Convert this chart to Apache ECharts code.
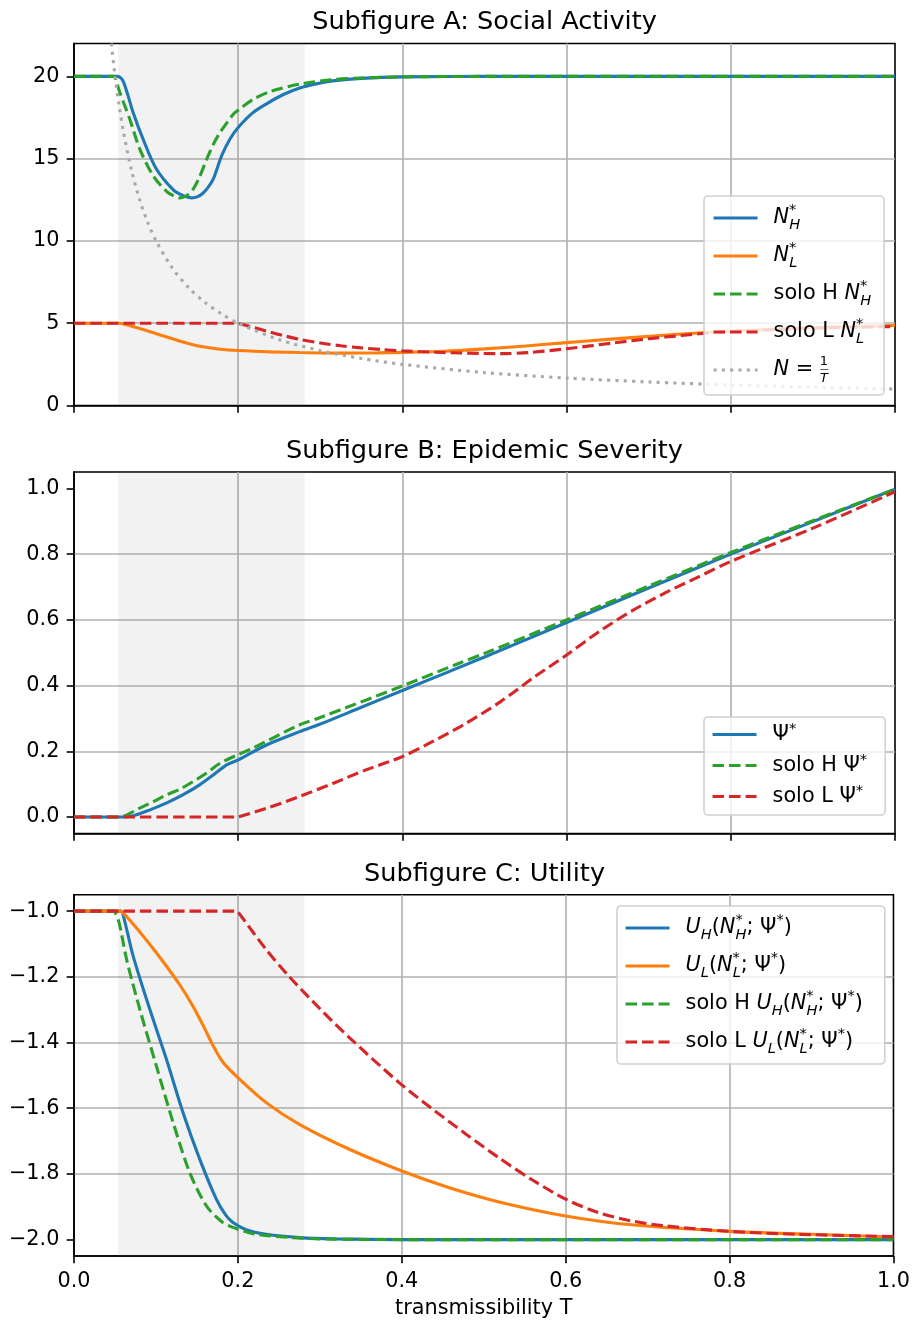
<!DOCTYPE html>
<html><head><meta charset="utf-8">
<script src="https://cdn.jsdelivr.net/npm/echarts@6/dist/echarts.min.js"></script>
<style>html,body{margin:0;padding:0;background:#fff;} #chart{width:913px;height:1320px;}</style>
</head><body><div id="chart"></div>
<script>
// ---------- text ----------
const titles = ['Subfigure A: Social Activity', 'Subfigure B: Epidemic Severity', 'Subfigure C: Utility'];
const xLabel = 'transmissibility T';

// ---------- ticks ----------
const xTicks = [0, 0.2, 0.4, 0.6, 0.8, 1.0];
const yTicksA = [0, 5, 10, 15, 20];
const yTicksB = [0, 0.2, 0.4, 0.6, 0.8, 1.0];
const yTicksC = [-2, -1.8, -1.6, -1.4, -1.2, -1];
const yRangeA = [0, 22];
const yRangeB = [-0.05, 1.05];
const yRangeC = [-2.05, -0.95];
const shadedT = [0.054, 0.281];

// ---------- Subfigure A : social activity ----------
const nH = [[0,20],[0.052,20],[0.056,19.95],[0.06,19.7],[0.066,18.8],[0.072,17.8],[0.084,16.2],[0.1,14.4],[0.121,13.1],[0.133,12.75],[0.143,12.62],[0.15,12.68],[0.157,12.9],[0.164,13.3],[0.17,13.8],[0.18,15.2],[0.19,16.2],[0.2,16.9],[0.218,17.8],[0.235,18.35],[0.255,18.9],[0.275,19.3],[0.3,19.6],[0.315,19.73],[0.35,19.88],[0.4,19.97],[0.5,20],[1,20]];
const nL = [[0,5],[0.0555,5],[0.056,5],[0.08,4.68],[0.105,4.29],[0.137,3.8],[0.153,3.6],[0.178,3.42],[0.2,3.34],[0.24,3.26],[0.275,3.22],[0.33,3.18],[0.37,3.2],[0.4,3.23],[0.45,3.3],[0.5,3.44],[0.55,3.62],[0.6,3.82],[0.65,4.02],[0.7,4.2],[0.74,4.35],[0.8,4.52],[0.87,4.68],[0.93,4.78],[1,4.86]];
const soloHnH = [[0,20],[0.0495,20],[0.05,20],[0.056,19.0],[0.062,18.2],[0.068,17.4],[0.08,15.6],[0.0966,13.95],[0.113,13.0],[0.121,12.75],[0.129,12.62],[0.137,12.75],[0.145,13.13],[0.153,13.9],[0.1614,14.95],[0.17,15.9],[0.178,16.6],[0.194,17.7],[0.2,17.95],[0.218,18.6],[0.24,19.1],[0.275,19.53],[0.315,19.8],[0.35,19.9],[0.4,19.97],[0.5,20],[1,20]];
const soloLnL = [[0,5],[0.1995,5],[0.2,5],[0.21,4.86],[0.235,4.52],[0.255,4.25],[0.275,4.02],[0.3,3.8],[0.325,3.63],[0.35,3.5],[0.375,3.4],[0.4,3.32],[0.45,3.22],[0.5,3.16],[0.52,3.15],[0.555,3.22],[0.6,3.45],[0.657,3.8],[0.7,4.06],[0.74,4.25],[0.77,4.39],[0.85,4.6],[0.93,4.73],[1,4.8]];
const nInvT = [[0.0455,22],[0.05,20],[0.055,18.2],[0.06,16.7],[0.07,14.3],[0.08,12.5],[0.09,11.1],[0.1,10],[0.12,8.33],[0.14,7.14],[0.16,6.25],[0.18,5.56],[0.2,5],[0.25,4],[0.3,3.33],[0.35,2.86],[0.4,2.5],[0.5,2],[0.6,1.67],[0.7,1.43],[0.8,1.25],[0.9,1.11],[1,1]];

// ---------- Subfigure B : epidemic severity ----------
const psi = [[0,0],[0.058,0],[0.072,0.004],[0.0925,0.022],[0.113,0.043],[0.133,0.068],[0.153,0.098],[0.17,0.129],[0.186,0.159],[0.2,0.174],[0.235,0.22],[0.275,0.26],[0.3,0.283],[0.35,0.334],[0.4,0.385],[0.5,0.487],[0.6,0.592],[0.7,0.697],[0.8,0.8],[0.9,0.899],[1,0.998]];
const soloHpsi = [[0,0],[0.055,0],[0.062,0.004],[0.08,0.027],[0.0966,0.047],[0.113,0.068],[0.129,0.085],[0.145,0.108],[0.1615,0.134],[0.178,0.164],[0.2,0.19],[0.218,0.21],[0.275,0.281],[0.3,0.303],[0.4,0.399],[0.47,0.469],[0.5,0.498],[0.6,0.6],[0.7,0.703],[0.8,0.805],[0.9,0.902],[1,0.998]];
const soloLpsi = [[0,0],[0.1995,0],[0.2,0],[0.235,0.027],[0.275,0.063],[0.316,0.103],[0.356,0.144],[0.4,0.184],[0.437,0.23],[0.478,0.286],[0.52,0.352],[0.56,0.425],[0.6,0.493],[0.64,0.565],[0.68,0.628],[0.72,0.682],[0.76,0.73],[0.8,0.778],[0.9,0.879],[1,0.99]];

// ---------- Subfigure C : utility ----------
const uH = [[0,-1],[0.057,-1],[0.06,-1.012],[0.0722,-1.137],[0.0925,-1.299],[0.1128,-1.451],[0.133,-1.613],[0.1534,-1.755],[0.1737,-1.877],[0.185,-1.925],[0.194,-1.948],[0.21,-1.97],[0.2345,-1.984],[0.275,-1.994],[0.32,-1.998],[0.4,-2],[1,-2]];
const uL = [[0,-1],[0.0575,-1],[0.058,-1],[0.07,-1.033],[0.09,-1.093],[0.11,-1.158],[0.13,-1.228],[0.145,-1.289],[0.16,-1.36],[0.17,-1.411],[0.182,-1.461],[0.2,-1.507],[0.2345,-1.583],[0.275,-1.649],[0.336,-1.725],[0.4,-1.791],[0.458,-1.842],[0.52,-1.886],[0.6,-1.928],[0.68,-1.955],[0.8,-1.975],[0.9,-1.984],[1,-1.992]];
const soloHuH = [[0,-1],[0.0495,-1],[0.05,-1],[0.055,-1.035],[0.0642,-1.147],[0.0803,-1.299],[0.1006,-1.472],[0.121,-1.644],[0.1412,-1.796],[0.1615,-1.897],[0.18,-1.945],[0.194,-1.963],[0.22,-1.983],[0.26,-1.993],[0.3,-1.998],[0.4,-2],[1,-2]];
const soloLuL = [[0,-1],[0.1995,-1],[0.2,-1],[0.2345,-1.117],[0.263,-1.2],[0.3,-1.297],[0.336,-1.385],[0.3967,-1.522],[0.4377,-1.603],[0.4784,-1.679],[0.5185,-1.751],[0.559,-1.818],[0.6,-1.877],[0.64,-1.918],[0.68,-1.943],[0.72,-1.958],[0.8,-1.975],[0.884,-1.984],[1,-1.991]];

// ---------- styling ----------
const FONT = 'DejaVu Sans';
const FS = 20.8;
const LW = 3.1;
const C_BLUE = '#1f77b4', C_ORANGE = '#ff7f0e', C_GREEN = '#2ca02c', C_RED = '#d62728', C_GREY = '#a9a9a9';
const DASH = [11.5, 5], DOT = [3.1, 5.2];
const grids = [
  {left: 74, top: 43.5, width: 821, height: 362},
  {left: 74, top: 472, width: 821, height: 361.5},
  {left: 74, top: 894.7, width: 821, height: 362}
];

function mk(name, data, color, dash, gi, extra) {
  return Object.assign({
    type: 'line', name: name, data: data, xAxisIndex: gi, yAxisIndex: gi,
    showSymbol: false, symbol: 'none', smooth: 0.3, silent: true,
    color: color,
    lineStyle: {color: color, width: LW, type: dash || 'solid', cap: 'butt'}
  }, extra || {});
}
function shade() {
  return {markArea: {silent: true, itemStyle: {color: 'rgba(128,128,128,0.1)'},
    data: [[{xAxis: shadedT[0]}, {xAxis: shadedT[1]}]]}};
}

function richFor(L) {
  return {
    m: {fontFamily: FONT, fontSize: FS, lineHeight: L, color: '#000'},
    it: {fontFamily: FONT, fontSize: FS, fontStyle: 'italic', lineHeight: L, color: '#000'},
    sub: {fontFamily: FONT, fontSize: 14.6, fontStyle: 'italic', lineHeight: L - 13.6, verticalAlign: 'bottom', color: '#000'},
    supz: {fontFamily: FONT, fontSize: 14.6, lineHeight: L - 7.2, verticalAlign: 'top', width: 0.1, color: '#000'},
    sup: {fontFamily: FONT, fontSize: 14.6, lineHeight: L - 7.2, verticalAlign: 'top', color: '#000'},
    frn: {fontFamily: FONT, fontSize: 13, lineHeight: L - 10, verticalAlign: 'top', width: 0.1, color: '#000'},
    frb: {fontFamily: FONT, fontSize: 9, lineHeight: L, width: 0.1, color: '#000'},
    frd: {fontFamily: FONT, fontSize: 13, fontStyle: 'italic', lineHeight: L - 12, verticalAlign: 'bottom', color: '#000'}
  };
}
const NHtxt = '{it|N}{supz|*}{sub|H}';
const NLtxt = '{it|N}{supz|*}{sub|L}';
const UHtxt = '{it|U}{sub|H}{m|(}' + NHtxt + '{m|; Ψ}{sup|*}{m|)}';
const ULtxt = '{it|U}{sub|L}{m|(}' + NLtxt + '{m|; Ψ}{sup|*}{m|)}';
const legendText = {
  'NH': NHtxt,
  'NL': NLtxt,
  'soloH NH': '{m|solo H }' + NHtxt,
  'soloL NL': '{m|solo L }' + NLtxt,
  'N=1/T': '{it|N}{m| = }{frn|1}{frb|—}{frd|T}',
  'Psi': '{m|Ψ}{sup|*}',
  'soloH Psi': '{m|solo H Ψ}{sup|*}',
  'soloL Psi': '{m|solo L Ψ}{sup|*}',
  'UH': UHtxt,
  'UL': ULtxt,
  'soloH UH': '{m|solo H }' + UHtxt,
  'soloL UL': '{m|solo L }' + ULtxt
};
function mkLegend(names, left, top, L, gap, pad) {
  return {
    data: names, orient: 'vertical', align: 'left', left: left, top: top,
    itemWidth: 44, itemHeight: 0.1, itemGap: gap, padding: pad,
    backgroundColor: 'rgba(255,255,255,0.8)', borderColor: 'rgba(204,204,204,0.9)',
    borderWidth: 1.6, borderRadius: 4, selectedMode: false,
    itemStyle: {opacity: 0, borderWidth: 0},
    lineStyle: {width: LW},
    formatter: function (n) { return legendText[n]; },
    textStyle: {fontFamily: FONT, fontSize: FS, color: '#000', padding: [0, 0, 0, 11], rich: richFor(L)}
  };
}

const yRanges = [yRangeA, yRangeB, yRangeC];
const yTickSets = [yTicksA, yTicksB, yTicksC];
const yFmt = [
  v => String(Math.round(v)),
  v => v.toFixed(1),
  v => v.toFixed(1).replace('-', '\u2212')
];

const xAxes = grids.map((g, i) => ({
  type: 'value', gridIndex: i, min: xTicks[0], max: xTicks[xTicks.length - 1], interval: 0.2,
  axisLine: {show: true, onZero: false, lineStyle: {color: '#000', width: 1.6}},
  axisTick: {show: true, length: 7.3, lineStyle: {color: '#000', width: 1.6}},
  axisLabel: {show: i === 2, margin: 15, fontFamily: FONT, fontSize: FS, color: '#000',
    formatter: v => v.toFixed(1)},
  splitLine: {show: true, showMinLine: false, showMaxLine: false, lineStyle: {color: '#b0b0b0', width: 1.6}},
  name: i === 2 ? xLabel : '', nameLocation: 'middle', nameGap: 42,
  nameTextStyle: {fontFamily: FONT, fontSize: FS, color: '#000'}
}));
const yAxes = grids.map((g, i) => ({
  type: 'value', gridIndex: i, min: yRanges[i][0], max: yRanges[i][1],
  splitNumber: 5,
  minInterval: i === 0 ? 5 : 0.2, maxInterval: i === 0 ? 5 : 0.2,
  axisLine: {show: true, onZero: false, lineStyle: {color: '#000', width: 1.6}},
  axisTick: {show: true, length: 7.3, customValues: yTickSets[i], lineStyle: {color: '#000', width: 1.6}},
  axisLabel: {show: true, margin: 14.6, customValues: yTickSets[i], fontFamily: FONT, fontSize: FS, color: '#000',
    formatter: yFmt[i]},
  splitLine: {show: true, showMinLine: false, showMaxLine: false, lineStyle: {color: '#b0b0b0', width: 1.6}}
}));

const series = [
  mk('NH', nH, C_BLUE, null, 0, shade()),
  mk('NL', nL, C_ORANGE, null, 0),
  mk('soloH NH', soloHnH, C_GREEN, DASH, 0),
  mk('soloL NL', soloLnL, C_RED, DASH, 0),
  mk('N=1/T', nInvT, C_GREY, DOT, 0),
  mk('Psi', psi, C_BLUE, null, 1, shade()),
  mk('soloH Psi', soloHpsi, C_GREEN, DASH, 1),
  mk('soloL Psi', soloLpsi, C_RED, DASH, 1),
  mk('UH', uH, C_BLUE, null, 2, shade()),
  mk('UL', uL, C_ORANGE, null, 2),
  mk('soloH UH', soloHuH, C_GREEN, DASH, 2),
  mk('soloL UL', soloLuL, C_RED, DASH, 2)
];

const titleY = [22, 451, 874];
const option = {
  animation: false,
  backgroundColor: '#fff',
  textStyle: {fontFamily: FONT},
  grid: grids.map(g => Object.assign({show: true, borderColor: '#000', borderWidth: 1.6, backgroundColor: 'transparent'}, g)),
  xAxis: xAxes,
  yAxis: yAxes,
  legend: [
    mkLegend(['NH', 'NL', 'soloH NH', 'soloL NL', 'N=1/T'], 704, 196, 30, 8, [7, 13, 10, 8]),
    mkLegend(['Psi', 'soloH Psi', 'soloL Psi'], 704, 717, 26, 7.5, [4.5, 18, 8, 7]),
    mkLegend(['UH', 'UL', 'soloH UH', 'soloL UL'], 617, 906, 30, 8, [7, 22, 7, 7])
  ],
  graphic: titles.map((t, i) => ({
    type: 'text', x: 484.5, y: titleY[i], silent: true,
    style: {text: t, align: 'center', verticalAlign: 'middle', font: '25.6px "DejaVu Sans"', fill: '#000'}
  })),
  series: series
};
const chart = echarts.init(document.getElementById('chart'), null, {renderer: 'canvas'});
chart.setOption(option);
</script>
</body></html>
